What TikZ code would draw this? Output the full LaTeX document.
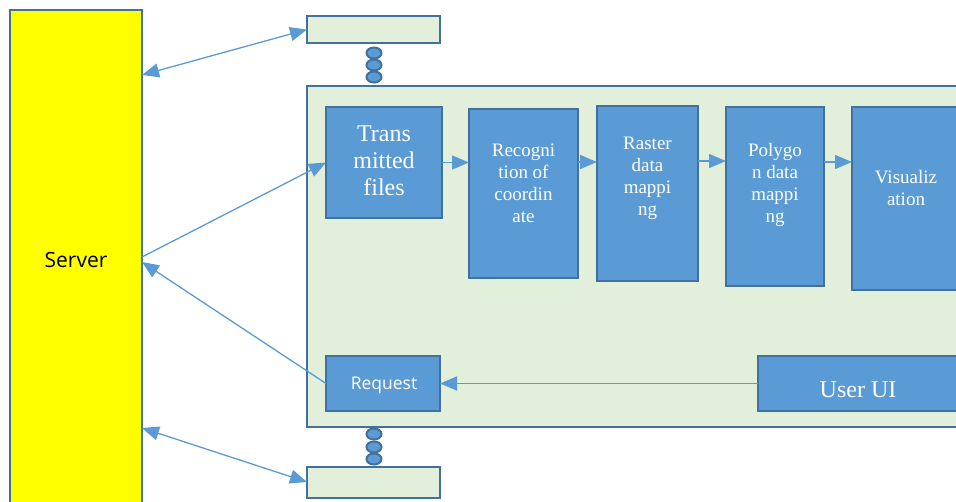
\documentclass[tikz,border=0pt]{standalone}
\usepackage{fontspec}
\setmainfont{Liberation Serif}
\setsansfont{Open Sans}
\usetikzlibrary{shapes.geometric,arrows.meta}
\usepackage{xcolor}
\definecolor{edgeblue}{HTML}{41719C}
\definecolor{fillblue}{HTML}{5B9BD5}
\definecolor{panelgreen}{HTML}{E2EFDA}
\definecolor{serveryellow}{HTML}{FFFF00}
\tikzset{
    frame/.style={draw=edgeblue,line width=2pt,inner sep=0pt,outer sep=0pt},
    proc/.style={frame,fill=fillblue},
    holder/.style={frame,fill=panelgreen},
    proctext/.style={text=white,align=center,font=\fontsize{19}{22}\selectfont},
    link/.style={draw=fillblue,line width=1.3pt,->,>={Triangle[length=17pt,width=14pt]}},
    bilink/.style={link,<->},
    bead/.style={ellipse,draw=edgeblue,fill=fillblue,line width=2pt,
        minimum width=15pt,minimum height=11pt,inner sep=0pt}
}
\newcommand{\procbox}[5] {
    \node[proc,minimum width=#4pt,minimum height=#5pt] (#1) at (#2,#3) {};
}

\begin{document}
\begin{tikzpicture}[x=1pt,y=-1pt]
    \useasboundingbox (0,0) rectangle (956,501);
    \clip (0,0) rectangle (956,501);
    % server column
    \node[frame,line width=1.5pt,fill=serveryellow,minimum width=132pt,minimum height=500pt,
        font=\sffamily\fontsize{21}{24}\selectfont] (server) at (76,260) {Server};
    % outer holders
    \node[holder,minimum width=133pt,minimum height=27pt] (top) at (373.5,29.5) {};
    \node[holder,minimum width=133pt,minimum height=31pt] (bottom) at (373.5,482) {};
    \node[holder,minimum width=703pt,minimum height=341pt] (panel) at (658.5,256.5) {};
    \foreach \i/\y in {1/53,2/65,3/77}
        \node[bead] (beadtop\i) at (374,\y) {};
    \foreach \i/\y in {1/434,2/447,3/459}
        \node[bead] (beadbot\i) at (374,\y) {};
    % processing steps
    \procbox{trans}{384}{162.5}{116}{111}
    \procbox{recog}{523.5}{193.5}{109}{169}
    \procbox{raster}{647.5}{193.5}{101}{175}
    \procbox{polygon}{775}{196.5}{98}{179}
    \procbox{visual}{926}{198.5}{148}{183}
    \procbox{request}{383}{383.5}{114}{55}
    \procbox{ui}{879}{383.5}{242}{55}
    \node[proctext,font=\fontsize{24}{27}\selectfont] (transtxt) at (384,161) {Trans\\mitted\\files};
    \node[proctext] (recogtxt) at (523.5,183) {Recogni\\tion of\\coordin\\ate};
    \node[proctext] (rastertxt) at (647.5,178.5) {Raster\\data\\mappi\\ng};
    \node[proctext] (polygontxt) at (775,185) {Polygo\\n data\\mappi\\ng};
    \node[proctext] (visualtxt) at (906,187.5) {Visualiz\\ation};
    \node[proctext,font=\sffamily\fontsize{17.5}{20}\selectfont] (requesttxt) at (384,385) {Request};
    \node[proctext,font=\fontsize{24}{27}\selectfont] (uitxt) at (858,390) {User UI};
    % connectors
    \draw[bilink] ([yshift=-65pt]server.north east) -- (top.west);
    \draw[bilink] ([yshift=-168pt]server.east) -- (bottom.west);
    \draw[link] ([yshift=3pt]server.east) -- (trans.west);
    \draw[link] (request.west) -- ([yshift=-2pt]server.east);
    \draw[link] (trans.east) -- (trans.east -| recog.west);
    \draw[link] (recog.east |- 0,162) -- (raster.west |- 0,162);
    \draw[link] (raster.east |- 0,161) -- (polygon.west |- 0,161);
    \draw[link] (polygon.east |- 0,162) -- (visual.west |- 0,162);
    \draw[link] (ui.west) -- (request.east);
\end{tikzpicture}
\end{document}
